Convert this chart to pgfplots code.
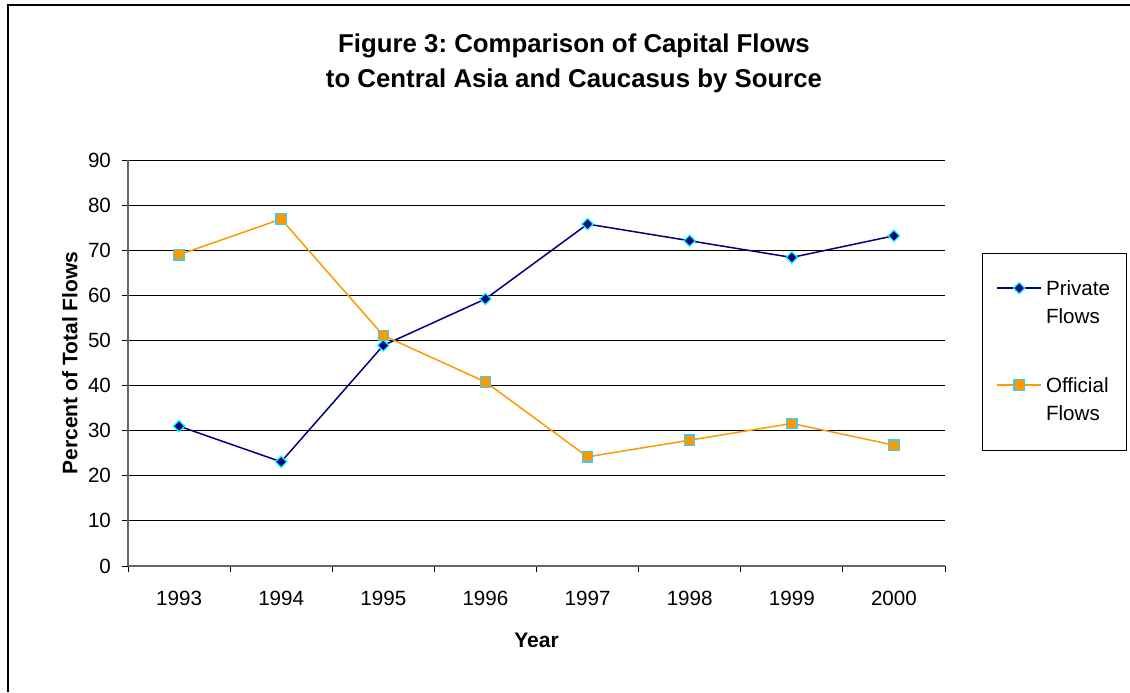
\documentclass[border=0pt]{standalone}
\usepackage{pgfplots}
\pgfplotsset{compat=1.18}
\usepackage{fontspec}
\setmainfont{Liberation Sans}
\frenchspacing
\definecolor{navyc}{HTML}{000080}
\definecolor{orangec}{HTML}{FF9900}
\definecolor{cyanc}{HTML}{00FFFF}
\definecolor{skyc}{HTML}{33CCFF}
\begin{document}
\begin{tikzpicture}
\useasboundingbox (0,0) rectangle (565pt,346pt);
\draw[line width=1pt] (4pt,0) -- (4pt,343.5pt) -- (565pt,343.5pt);
\node[anchor=base, font=\fontsize{12.9}{15}\selectfont\bfseries] at (287pt,319.5pt) {Figure 3: Comparison of Capital Flows};
\node[anchor=base, font=\fontsize{12.9}{15}\selectfont\bfseries] at (287pt,302pt) {to Central Asia and Caucasus by Source};
\begin{axis}[
  at={(64pt,63pt)}, anchor=south west, scale only axis,
  width=408.5pt, height=203pt,
  xmin=0.5, xmax=8.5, ymin=0, ymax=90,
  xtick={0.5,1.5,...,8.5}, x tick label as interval,
  xticklabels={1993,1994,1995,1996,1997,1998,1999,2000},
  ytick={0,10,...,90},
  tick align=outside, major tick length=3pt,
  tick style={black, line width=0.5pt},
  axis x line*=bottom, axis y line*=left,
  axis line style={draw=black!60, line width=0.75pt},
  ymajorgrids, grid style={black, line width=0.5pt},
  /pgf/number format/assume math mode=true,
  ticklabel style={font=\fontsize{10.3}{12}\selectfont},
  xticklabel style={yshift=-6pt},
  yticklabel style={xshift=-2pt},
  xlabel={Year}, ylabel={Percent of Total Flows},
  xlabel style={at={(axis description cs:0.5,-0.1995)}, anchor=base, font=\fontsize{10.5}{12}\selectfont\bfseries},
  ylabel style={at={(axis description cs:-0.071,0.5)}, anchor=center, font=\fontsize{10.5}{12}\selectfont\bfseries},
  legend style={at={(axis description cs:1.0453,0.771)}, anchor=north west,
    draw=black, line width=0.5pt, inner xsep=7pt, inner ysep=10pt, row sep=18.5pt, column sep=1pt,
    nodes={inner sep=1pt, font=\fontsize{10.3}{14}\selectfont, anchor=base west, text height=9.8pt, text depth=18.2pt}},
  legend cell align=left,
  legend image code/.code={\draw[mark repeat=2,mark phase=2] plot coordinates {(0pt,3.5pt)(11pt,3.5pt)(22pt,3.5pt)};},
]
\addplot[color=navyc, line width=0.75pt, mark=square*, mark size=2pt,
  mark options={fill=navyc, draw=cyanc, line width=0.6pt, rotate=45}]
  coordinates {(1,31.0) (2,23.1) (3,48.9) (4,59.2) (5,75.8) (6,72.1) (7,68.4) (8,73.2)};
\addlegendentry{\begin{tabular}[t]{@{}l@{}}Private\\Flows\end{tabular}}
\addplot[color=orangec, line width=0.75pt, mark=square*, mark size=2.6pt,
  mark options={fill=orangec, draw=skyc, line width=0.6pt}]
  coordinates {(1,69.0) (2,76.9) (3,51.1) (4,40.8) (5,24.2) (6,27.9) (7,31.6) (8,26.8)};
\addlegendentry{\begin{tabular}[t]{@{}l@{}}Official\\Flows\end{tabular}}
\end{axis}
\end{tikzpicture}
\end{document}
